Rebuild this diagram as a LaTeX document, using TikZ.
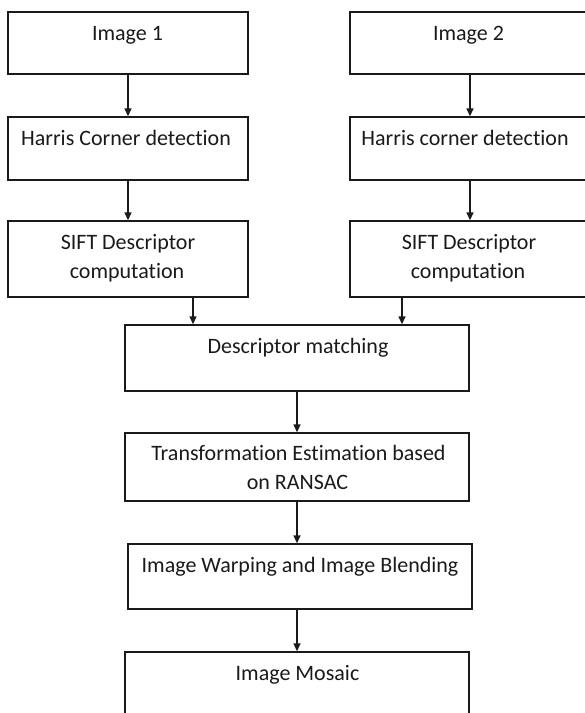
\documentclass[tikz,border=0pt]{standalone}
\usepackage{fontspec}
\setmainfont{Carlito}[Ligatures=NoCommon]
\usetikzlibrary{arrows.meta}
\definecolor{ink}{HTML}{1A1A1A}
\tikzset{
  box/.style={draw=ink, line width=1.4pt, rectangle, inner sep=0pt, fill=none},
  lbl/.style={anchor=base, inner sep=0pt, text=ink, font=\fontsize{22pt}{29pt}\selectfont},
  arr/.style={draw=ink, line width=1.4pt, -{Triangle[width=7pt,length=8pt]}}
}
\begin{document}
\begin{tikzpicture}[x=1pt,y=-1pt]
\useasboundingbox (0,0) rectangle (585,713);
\begin{scope}
\clip (0,0) rectangle (585,713);
% boxes
\node[box, minimum width=240pt, minimum height=62pt] (img1) at (128,43) {};
\node[box, minimum width=240pt, minimum height=62pt] (img2) at (470,43) {};
\node[box, minimum width=240pt, minimum height=63pt] (har1) at (128,148.5) {};
\node[box, minimum width=240pt, minimum height=63pt] (har2) at (470,148.5) {};
\node[box, minimum width=240pt, minimum height=76pt] (sift1) at (128,259) {};
\node[box, minimum width=240pt, minimum height=76pt] (sift2) at (470,259) {};
\node[box, minimum width=344pt, minimum height=66pt] (dm) at (297,358) {};
\node[box, minimum width=344pt, minimum height=68pt] (tr) at (297,467) {};
\node[box, minimum width=344pt, minimum height=65pt] (wp) at (300,576.5) {};
\node[box, minimum width=344pt, minimum height=76pt] (mo) at (297,690) {};
% texts
\node[lbl] (t1) at (127.5,40) {Image 1};
\node[lbl] (t2) at (468.5,40) {Image 2};
\node[lbl] (t3) at (126,145) {Harris Corner detection};
\node[lbl] (t4) at (465,145) {Harris corner detection};
\node[lbl] (t5a) at (128,249) {SIFT Descriptor};
\node[lbl] (t5b) at (127,278) {computation};
\node[lbl] (t6a) at (469,249) {SIFT Descriptor};
\node[lbl] (t6b) at (468,278) {computation};
\node[lbl] (t7) at (298,353) {Descriptor matching};
\node[lbl] (t8a) at (298.5,460) {Transformation Estimation based};
\node[lbl] (t8b) at (297.5,489) {on RANSAC};
\node[lbl] (t9) at (300,572) {Image Warping and Image Blending};
\node[lbl] (t10) at (297.5,680) {Image Mosaic};
% arrows
\draw[arr] (img1.south) -- (har1.north);
\draw[arr] (img2.south) -- (har2.north);
\draw[arr] (har1.south) -- (sift1.north);
\draw[arr] (har2.south) -- (sift2.north);
\draw[arr] ([xshift=65pt]sift1.south) -- ([xshift=65pt]sift1.south |- dm.north);
\draw[arr] ([xshift=-68pt]sift2.south) -- ([xshift=-68pt]sift2.south |- dm.north);
\draw[arr] (dm.south) -- (tr.north);
\draw[arr] (tr.south) -- (tr.south |- wp.north);
\draw[arr] (tr.south |- wp.south) -- (mo.north);
\end{scope}
\end{tikzpicture}
\end{document}
